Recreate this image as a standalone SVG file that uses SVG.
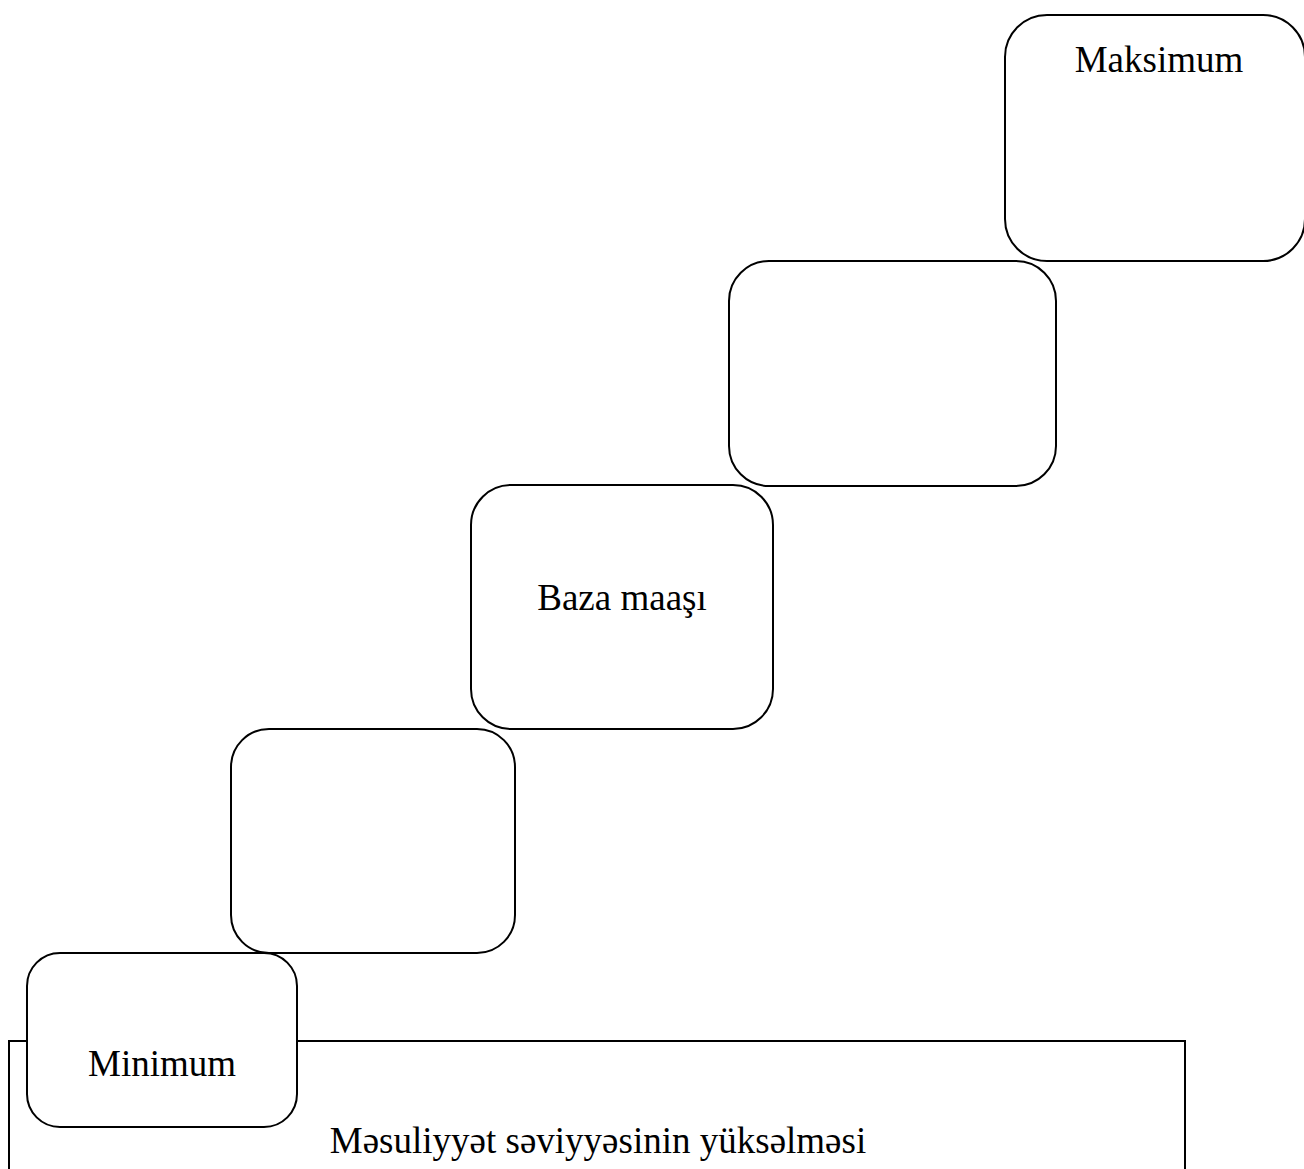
<svg xmlns="http://www.w3.org/2000/svg" width="1304" height="1169" viewBox="0 0 1304 1169">
<style>
.box{fill:#fff;stroke:#000;stroke-width:2}
.t{font-family:"Liberation Serif","Times New Roman",serif;font-size:37px;fill:#000;text-anchor:middle}
</style>
<rect width="1304" height="1169" fill="#fff"/>
<g id="base">
<rect class="box" x="9" y="1041" width="1176" height="160"/>
<text class="t" x="598" y="1153">Məsuliyyət səviyyəsinin yüksəlməsi</text>
</g>
<g id="maksimum">
<rect class="box" x="1005" y="15" width="300" height="246" rx="42" ry="42"/>
<text class="t" x="1159" y="72">Maksimum</text>
</g>
<g id="step4">
<rect class="box" x="729" y="261" width="327" height="225" rx="40" ry="40"/>
</g>
<g id="baza">
<rect class="box" x="471" y="485" width="302" height="244" rx="40" ry="40"/>
<text class="t" x="622" y="610">Baza maaşı</text>
</g>
<g id="step2">
<rect class="box" x="231" y="729" width="284" height="224" rx="38" ry="38"/>
</g>
<g id="minimum">
<rect class="box" x="27" y="953" width="270" height="174" rx="33" ry="33"/>
<text class="t" x="162" y="1076">Minimum</text>
</g>
<g id="connectors"/>
</svg>
